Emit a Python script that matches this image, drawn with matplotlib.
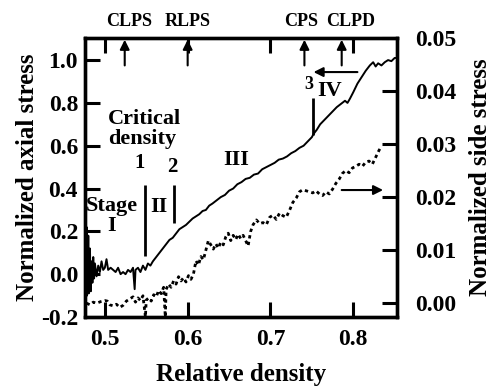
import matplotlib
matplotlib.use('Agg')
import matplotlib.pyplot as plt

plt.rcParams['font.family'] = ['Liberation Serif', 'DejaVu Serif']
plt.rcParams['font.weight'] = 'bold'

# axial stress (solid, left axis)
axial_x = [0.477, 0.4775, 0.478, 0.4785, 0.479, 0.4795, 0.480, 0.4805, 0.481, 0.4815,
           0.482, 0.483, 0.484, 0.485, 0.486, 0.487,
           0.488, 0.490, 0.492, 0.494, 0.496, 0.498, 0.500, 0.502, 0.504, 0.507,
           0.510, 0.513, 0.516, 0.519, 0.522, 0.525, 0.528, 0.531, 0.534, 0.536,
           0.537, 0.540, 0.543, 0.546, 0.549, 0.552, 0.555, 0.558, 0.562, 0.566,
           0.570, 0.574, 0.578, 0.582, 0.586, 0.590, 0.594, 0.598, 0.602, 0.606,
           0.610, 0.614, 0.618, 0.622, 0.626, 0.630, 0.635, 0.640, 0.645, 0.650,
           0.655, 0.660, 0.665, 0.670, 0.675, 0.680, 0.685, 0.690, 0.695, 0.700,
           0.705, 0.710, 0.715, 0.720, 0.725, 0.730, 0.735, 0.740, 0.745, 0.750,
           0.752, 0.756, 0.760, 0.765, 0.770, 0.775, 0.780, 0.785, 0.790, 0.793,
           0.796, 0.800, 0.805, 0.810, 0.815, 0.820, 0.824, 0.827, 0.830, 0.834,
           0.838, 0.842, 0.846, 0.850, 0.853]
axial_y = [0.20, -0.08, 0.22, -0.10, 0.14, -0.07, 0.18, -0.09, 0.10, -0.05,
           0.12, -0.08, 0.06, -0.04, 0.08, -0.02,
           0.05, -0.01, 0.04, 0.01, 0.06, 0.02, 0.03, 0.07, 0.02, 0.03,
           0.02, 0.01, 0.03, 0.00, 0.01, 0.00, 0.02, 0.01, 0.03, -0.07,
           0.02, 0.03, 0.01, 0.04, 0.02, 0.05, 0.04, 0.06, 0.08, 0.10,
           0.12, 0.14, 0.16, 0.17, 0.19, 0.21, 0.22, 0.23, 0.245, 0.26,
           0.27, 0.28, 0.295, 0.30, 0.32, 0.33, 0.345, 0.36, 0.37, 0.39,
           0.40, 0.42, 0.43, 0.445, 0.45, 0.465, 0.47, 0.49, 0.50, 0.51,
           0.52, 0.535, 0.54, 0.55, 0.565, 0.575, 0.59, 0.60, 0.62, 0.64,
           0.655, 0.675, 0.70, 0.72, 0.74, 0.76, 0.78, 0.795, 0.81, 0.80,
           0.82, 0.85, 0.89, 0.92, 0.95, 0.975, 0.99, 0.97, 0.985, 0.975,
           0.99, 1.0, 0.995, 1.01, 1.01]

# side stress (dotted, right axis)
side_x = [0.478, 0.482, 0.486, 0.490, 0.495, 0.500, 0.503, 0.506, 0.510, 0.514,
          0.518, 0.522, 0.526, 0.530, 0.534, 0.537, 0.540, 0.543, 0.546, 0.549,
          0.550, 0.553, 0.556, 0.559, 0.562, 0.565, 0.568, 0.571, 0.573, 0.574,
          0.577, 0.580, 0.583, 0.586, 0.589, 0.592, 0.595, 0.598, 0.601, 0.604,
          0.607, 0.610, 0.613, 0.616, 0.619, 0.622, 0.625, 0.628, 0.631, 0.634,
          0.637, 0.640, 0.643, 0.646, 0.649, 0.652, 0.655, 0.658, 0.661, 0.664,
          0.667, 0.670, 0.673, 0.676, 0.679, 0.683, 0.687, 0.691, 0.695, 0.699,
          0.703, 0.707, 0.711, 0.715, 0.719, 0.723, 0.727, 0.731, 0.735, 0.739,
          0.743, 0.747, 0.751, 0.755, 0.759, 0.763, 0.767, 0.771, 0.775, 0.779,
          0.783, 0.787, 0.791, 0.795, 0.799, 0.803, 0.807, 0.811, 0.815, 0.819,
          0.823, 0.827, 0.831, 0.834]
side_y = [0.0000, -0.0003, 0.0002, 0.0000, 0.0003, 0.0005, 0.0004, -0.0003, -0.0005, -0.0002,
          -0.0008, -0.0004, 0.0004, 0.0008, 0.0012, 0.0002, 0.0010, 0.0005, 0.0014, -0.0026,
          0.0006, 0.0010, 0.0004, 0.0016, 0.0012, 0.0024, 0.0018, 0.0030, -0.0026, 0.0026,
          0.0036, 0.0030, 0.0042, 0.0036, 0.0050, 0.0042, 0.0048, 0.0040, 0.0052, 0.0045,
          0.0055, 0.0080, 0.0072, 0.0088, 0.0082, 0.0100, 0.0118, 0.0110, 0.0102, 0.0112,
          0.0104, 0.0115, 0.0110, 0.0125, 0.0132, 0.0118, 0.0128, 0.0120, 0.0130, 0.0122,
          0.0128, 0.0118, 0.0108, 0.0135, 0.0148, 0.0157, 0.0150, 0.0152, 0.0148, 0.0162,
          0.0166, 0.0158, 0.0170, 0.0165, 0.0162, 0.0175, 0.0190, 0.0198, 0.0210, 0.0214,
          0.0212, 0.0210, 0.0208, 0.0212, 0.0206, 0.0203, 0.0210, 0.0206, 0.0215, 0.0226,
          0.0234, 0.0245, 0.0250, 0.0246, 0.0255, 0.0258, 0.0262, 0.0258, 0.0266, 0.0268,
          0.0262, 0.0275, 0.0288, 0.0296]

x_ticks = [0.5, 0.6, 0.7, 0.8]
left_ticks = [-0.2, 0.0, 0.2, 0.4, 0.6, 0.8, 1.0]
right_ticks = [0.00, 0.01, 0.02, 0.03, 0.04, 0.05]

# top markers
marker_names = ['CLPS', 'RLPS', 'CPS', 'CLPD']
marker_x = [0.524, 0.600, 0.741, 0.786]
marker_label_x = [0.529, 0.600, 0.737, 0.797]

# stage boundary lines (x, y bottom, y top)
bound_x = [0.549, 0.584, 0.751]
bound_lo = [0.085, 0.239, 0.650]
bound_hi = [0.416, 0.416, 0.823]

fig = plt.figure(figsize=(4.94, 3.88), dpi=100)
ax = fig.add_axes([0.172, 0.183, 0.632, 0.719])
ax2 = ax.twinx()

ax.plot(axial_x, axial_y, color='black', lw=1.4)
ax2.plot(side_x, side_y, color='black', lw=2.0, linestyle=(0, (1.2, 1.2)))

ax.set_xlim(0.476, 0.853)
ax.set_ylim(-0.2, 1.103)
ax2.set_ylim(-0.0026, 0.05)

ax.set_xticks(x_ticks)
ax.set_xticklabels(['%.1f' % v for v in x_ticks])
ax.set_yticks(left_ticks)
ax.set_yticklabels(['%.1f' % v for v in left_ticks])
ax2.set_yticks(right_ticks)
ax2.set_yticklabels(['%.2f' % v for v in right_ticks])

ax.tick_params(axis='x', direction='in', top=True, length=11, width=2.2,
               labelsize=17, pad=9)
ax.tick_params(axis='y', direction='in', length=11, width=2.2, labelsize=17, pad=5)
ax2.tick_params(axis='y', direction='in', length=11, width=2.2, labelsize=17, pad=13)

for a in (ax, ax2):
    for s in a.spines.values():
        s.set_linewidth(2.4)

ax.set_xlabel('Relative density', fontsize=18, fontweight='bold', labelpad=9)
ax.set_ylabel('Normalized axial stress', fontsize=18, fontweight='bold', labelpad=1)
ax2.set_ylabel('Normalized side stress', fontsize=18, fontweight='bold', labelpad=9)

# arrows from top with labels
for mx in marker_x:
    ax.annotate('', xy=(mx, 1.095), xytext=(mx, 0.975),
                arrowprops=dict(arrowstyle='-|>', color='black', lw=1.5,
                                mutation_scale=14, shrinkA=0, shrinkB=0))
for name, lx in zip(marker_names, marker_label_x):
    ax.text(lx, 1.06, name, transform=ax.get_xaxis_transform(),
            ha='center', va='center', fontsize=13, fontweight='bold')

# stage boundaries
ax.vlines(bound_x, bound_lo, bound_hi, color='black', lw=2.0)

ax.text(0.504, 0.678, 'Critical\ndensity', ha='left', va='center', fontsize=16,
        fontweight='bold', linespacing=0.95)
ax.text(0.542, 0.519, '1', ha='center', va='center', fontsize=15, fontweight='bold')
ax.text(0.582, 0.50, '2', ha='center', va='center', fontsize=15, fontweight='bold')
ax.text(0.508, 0.272, 'Stage\nI', ha='center', va='center', fontsize=16,
        fontweight='bold', linespacing=0.95)
ax.text(0.565, 0.314, 'II', ha='center', va='center', fontsize=16, fontweight='bold')
ax.text(0.659, 0.533, 'III', ha='center', va='center', fontsize=16, fontweight='bold')
ax.text(0.746, 0.885, '3', ha='center', va='center', fontsize=13, fontweight='bold')
ax.text(0.772, 0.855, 'IV', ha='center', va='center', fontsize=16, fontweight='bold')

# arrows pointing to axes
ax.annotate('', xy=(0.752, 0.944), xytext=(0.805, 0.944),
            arrowprops=dict(arrowstyle='-|>', color='black', lw=1.5,
                            mutation_scale=14, shrinkA=0, shrinkB=0))
ax.annotate('', xy=(0.836, 0.393), xytext=(0.786, 0.393),
            arrowprops=dict(arrowstyle='-|>', color='black', lw=1.5,
                            mutation_scale=14, shrinkA=0, shrinkB=0))

fig.savefig('out.png', dpi=100)
